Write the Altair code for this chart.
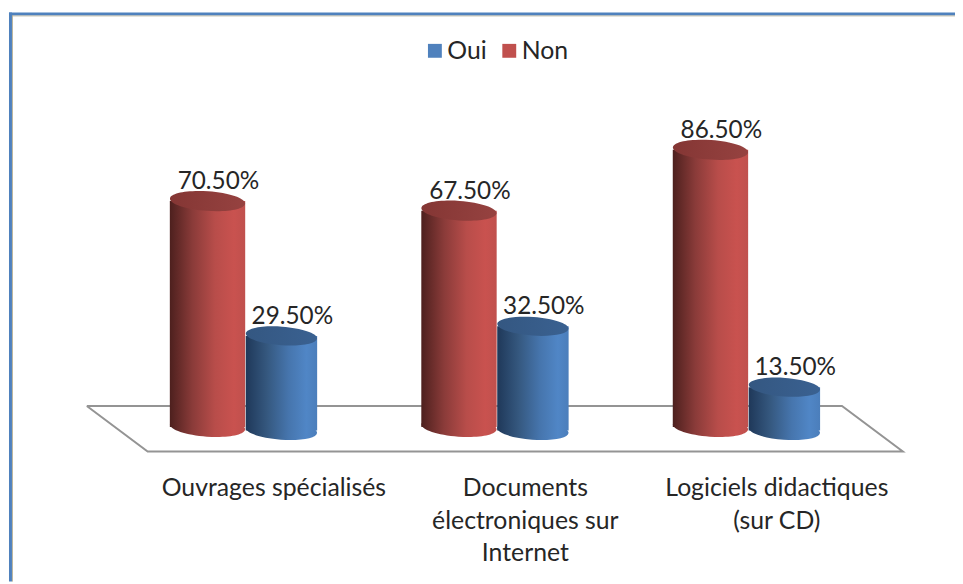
import altair as alt
import pandas as pd

categories = ["Ouvrages spécialisés", "Documents\nélectroniques sur\nInternet", "Logiciels didactiques\n(sur CD)"]
group_pos = [0, 1, 2]
non_values = [70.5, 67.5, 86.5]
oui_values = [29.5, 32.5, 13.5]
floor_x = [-0.627, -0.385, 2.618, 2.376, -0.627]
floor_y = [6.5, -7.7, -7.7, 6.5, 6.5]
floor_order = [0, 1, 2, 3, 4]

FONT = "Lato"
TXT = "#262626"
X = alt.Scale(domain=[-0.9404, 2.857], range=[0, 963], nice=False, zero=False, padding=0)
Y = alt.Scale(domain=[-45.82, 130.03], range=[568, 0], nice=False, zero=False)
ELL = "M -1 0 A 1 0.26 0 1 0 1 0 A 1 0.26 0 1 0 -1 0 Z"


def grad(stops):
    return alt.Gradient(
        gradient="linear", x1=0, x2=1, y1=0, y2=0,
        stops=[alt.GradientStop(offset=o, color=c) for o, c in stops],
    )


series = [
    dict(name="Non", vals=non_values, off=-0.147, base=0.0, w=76, top0="#843634", top1="#964240",
         g=[(0, "#4d201e"), (0.3, "#8a3b39"), (0.6, "#b84d4a"), (0.85, "#c9524f"), (1, "#c0504d")]),
    dict(name="Oui", vals=oui_values, off=0.147, base=-1.1, w=72, top0="#345781", top1="#3a6191",
         g=[(0, "#1f3859"), (0.3, "#35587f"), (0.6, "#4675ad"), (0.85, "#5086c6"), (1, "#4b7ebb")]),
]

layers = []

frame = pd.DataFrame({"a": [0]})
layers.append(alt.Chart(frame).mark_rule(color="#b9b39a", strokeWidth=1).encode(
    x=alt.value(4), x2=alt.value(955), y=alt.value(5.5)))
layers.append(alt.Chart(frame).mark_rule(color="#b9b39a", strokeWidth=1).encode(
    x=alt.value(4.5), y=alt.value(4), y2=alt.value(576)))
layers.append(alt.Chart(frame).mark_rule(color="#4f81bd", strokeWidth=3).encode(
    x=alt.value(1), x2=alt.value(955), y=alt.value(3.5)))
layers.append(alt.Chart(frame).mark_rule(color="#4f81bd", strokeWidth=3).encode(
    x=alt.value(2.5), y=alt.value(2), y2=alt.value(576)))

floor = pd.DataFrame({"x": floor_x, "y": floor_y, "o": floor_order})
layers.append(alt.Chart(floor).mark_line(color="#949494", strokeWidth=2, strokeJoin="miter").encode(
    x=alt.X("x:Q", scale=X, axis=None),
    y=alt.Y("y:Q", scale=Y, axis=None),
    order="o:Q",
))

legend_df = pd.DataFrame({"s": ["Oui", "Non"], "x": [0.0, 0.0], "y": [0.0, 0.0]})
layers.append(alt.Chart(legend_df).mark_point(filled=True, size=0, opacity=0).encode(
    x=alt.X("x:Q", scale=X, axis=None),
    y=alt.Y("y:Q", scale=Y, axis=None),
    color=alt.Color("s:N", scale=alt.Scale(domain=["Oui", "Non"], range=["#4f81bd", "#c0504d"]),
                    legend=alt.Legend(title=None, orient="none", legendX=418, legendY=28,
                                      direction="horizontal", symbolType="square", symbolSize=196,
                                      symbolOpacity=1, symbolStrokeWidth=0,
                                      labelFont=FONT, labelFontSize=25, labelColor=TXT, labelOpacity=1,
                                      labelOffset=0, columnPadding=10, rowPadding=0,
                                      symbolFillColor=None)),
))

for s in series:
    df = pd.DataFrame({
        "x": [p + s["off"] for p in group_pos],
        "v": s["vals"],
    })
    df["base"] = s["base"]
    df["top"] = df["v"] + s["base"]
    df["lab"] = [f"{v:.2f}%" for v in s["vals"]]
    sym = dict(shape=ELL, filled=True, size=s["w"] ** 2, angle=4, opacity=1, strokeWidth=0)
    xenc = alt.X("x:Q", scale=X, axis=None)
    layers.append(alt.Chart(df).mark_point(fill=grad(s["g"]), **sym).encode(
        x=xenc, y=alt.Y("base:Q", scale=Y, axis=None)))
    layers.append(alt.Chart(df).mark_bar(width=s["w"], color=grad(s["g"]), cornerRadius=0).encode(
        x=xenc, y=alt.Y("top:Q", scale=Y, axis=None), y2="base:Q"))
    layers.append(alt.Chart(df).mark_point(fill=grad([(0, s["top0"]), (1, s["top1"])]), **sym).encode(
        x=xenc, y=alt.Y("top:Q", scale=Y, axis=None)))
    layers.append(alt.Chart(df).mark_text(font=FONT, fontSize=24.5, color=TXT, dx=11, dy=-19, baseline="middle").encode(
        x=xenc, y=alt.Y("top:Q", scale=Y, axis=None), text="lab:N"))

cat_df = pd.DataFrame({"x": [p + 0.117 for p in group_pos], "y": [-19.2] * 3, "t": categories})
layers.append(alt.Chart(cat_df).mark_text(font=FONT, fontSize=25, color=TXT, baseline="middle", lineBreak="\n",
                                          lineHeight=32.5).encode(
    x=alt.X("x:Q", scale=X, axis=None),
    y=alt.Y("y:Q", scale=Y, axis=None),
    text="t:N",
))

chart = alt.layer(*layers).properties(
    width=955, height=576, padding=0, autosize=alt.AutoSizeParams(type="none"),
    background="white",
).configure_view(stroke=None)

chart.save("out.html", embed_options={"renderer": "svg", "actions": False})
